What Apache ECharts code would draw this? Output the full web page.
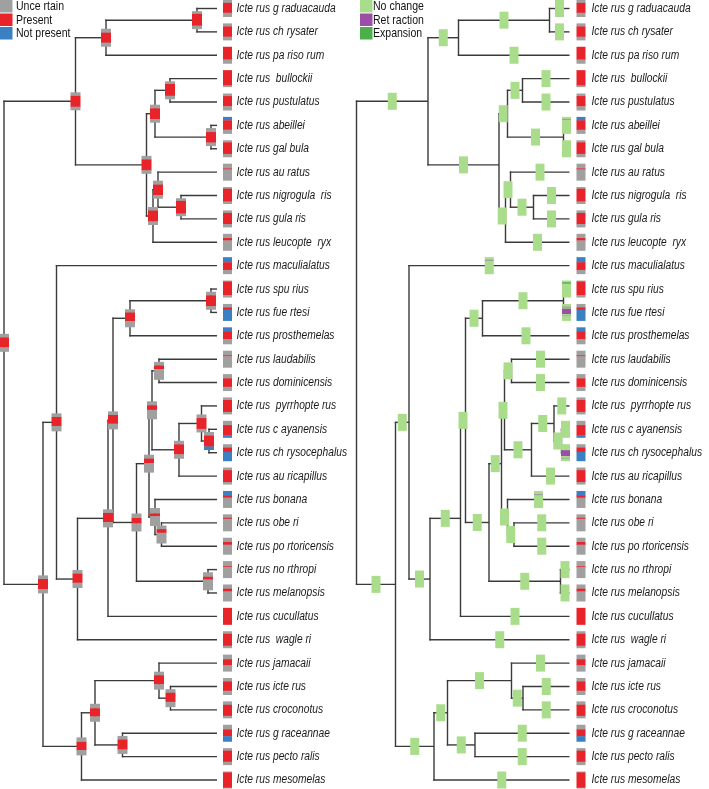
<!DOCTYPE html>
<html><head><meta charset="utf-8">
<script src="https://cdn.jsdelivr.net/npm/echarts@6/dist/echarts.min.js"></script>
<style>html,body{margin:0;padding:0;background:#fff}#c{width:709px;height:789px}</style>
</head><body><div id="c"></div><script>
// ---------------- DATA ----------------
const taxa = ['Icte rus g raduacauda','Icte rus ch rysater','Icte rus pa riso rum','Icte rus  bullockii','Icte rus pustulatus','Icte rus abeillei','Icte rus gal bula','Icte rus au ratus','Icte rus nigrogula  ris','Icte rus gula ris','Icte rus leucopte  ryx','Icte rus maculialatus','Icte rus spu rius','Icte rus fue rtesi','Icte rus prosthemelas','Icte rus laudabilis','Icte rus dominicensis','Icte rus  pyrrhopte rus','Icte rus c ayanensis','Icte rus ch rysocephalus','Icte rus au ricapillus','Icte rus bonana','Icte rus obe ri','Icte rus po rtoricensis','Icte rus no rthropi','Icte rus melanopsis','Icte rus cucullatus','Icte rus  wagle ri','Icte rus jamacaii','Icte rus icte rus','Icte rus croconotus','Icte rus g raceannae','Icte rus pecto ralis','Icte rus mesomelas'];
// state composition top->bottom: g=uncertain, r=present, b=not present (relative weights)
const leafStates = ['g17 r58 g25','g18 r60 g22','r75 g25','r90 g10','g15 r60 g25','b20 r55 g25','g12 r68 g20','g28 r6 g66','g10 r75 g15','g15 r65 g20','g25 r14 g61','b30 r45 g25','g6 r79 g15','g20 r14 b66','b25 r45 g30','g27 r6 g67','g25 r50 g25','g15 r70 g15','g25 r60 b15','g20 r24 b56','g15 r70 g15','b27 r12 g61','g20 r6 g74','g25 r16 g59','g30 r6 g64','g25 r16 g59','r100','g15 r70 g15','g27 r36 g37','g20 r55 g25','g20 r65 g15','g27 r40 b33','g15 r65 g20','g5 r90 g5'];
const nodeIds = ['root','A','A1','A1a','A2','A2a','A2a1','A2a2','A2b','A2b1','A2b1a','B','C','D','E','F','G','G1','H','I','I1','I1a','I1b','I1b1','I1b1a','I2','I2a','J','K','K1','K1a','K1a1','K1b'];
const nodeDepths = [0,71.5,102,193,142.5,151,166,207,149,154,177,39,52.5,73.5,104,109,126,207,132.5,145,148,155,175,197.5,205,151,157.5,204,77.5,91,155,166.5,118.5];
const nodeChildren = [['A','B'],['A1','A2'],['A1a',2],[0,1],['A2a','A2b'],['A2a1','A2a2'],[3,4],[5,6],['A2b1',10],[7,'A2b1a'],[8,9],['C','K'],[11,'D'],['E',27],['F',26],['G','H'],['G1',14],[12,13],['I','J'],['I1','I2'],['I1a','I1b'],[15,16],['I1b1',20],[17,'I1b1a'],[18,19],[21,'I2a'],[22,23],[24,25],['K1',33],['K1a','K1b'],[28,'K1a1'],[29,30],[31,32]];
const nodeStates = ['g20 r55 g25','g20 r60 g20','g22 r55 g23','g15 r65 g20','g20 r60 g20','g20 r60 g20','g15 r65 g20','g22 r58 g20','g20 r60 g20','g22 r58 g20','g15 r70 g15','g20 r56 g24','g20 r50 g30','g20 r50 g30','g20 r50 g30','g20 r48 g32','g18 r47 g35','g20 r60 g20','g25 r30 g45','g22 r25 g53','g22 r25 g53','g20 r20 g60','g20 r55 g25','g20 r60 g20','g20 r60 b20','g30 r15 g55','g20 r20 g60','g25 r15 g60','g25 r45 g30','g25 r45 g30','g20 r50 g30','g20 r50 g30','g20 r55 g25'];
// branch changes (right tree): n=no change, p=retraction, e=expansion, g=uncertain
const changeTaxa = [5, 11, 12, 13, 19, 21];
const changeStates = ['n12 g8 n80','n15 g8 n77','n10 e8 n82','n15 g8 n5 p32 n8 g5 n27','n35 p35 n10 g5 n15','n18 g8 n74'];
const defaultChange = 'n100';
const legendLeft = ['Unce rtain','Present','Not present'];
const legendLeftKeys = ['g','r','b'];
const legendRight = ['No change','Ret raction','Expansion'];
const legendRightKeys = ['n','p','e'];
const TIP = 213;

// ---------------- STYLE ----------------
const COLORS = {g:'#a0a0a0', r:'#e8232a', b:'#3a80c3', n:'#a9dc8b', p:'#9b4ea6', e:'#4dae4c'};
const LINE = '#3a3a3a';
const FONT = '"Liberation Sans",Arial,sans-serif';

// ---------------- TREE ----------------
const nodeIndex = {}; nodeIds.forEach((id,i)=>nodeIndex[id]=i);
function isLeaf(ref){ return typeof ref === 'number'; }
function getY(ref){ if (isLeaf(ref)) return ref; const ch = nodeChildren[nodeIndex[ref]]; return (getY(ch[0]) + getY(ch[1]))/2; }
function getDepth(ref){ return isLeaf(ref) ? TIP : nodeDepths[nodeIndex[ref]]; }
const items = [];
function walk(ref, pDepth){
  const leaf = isLeaf(ref);
  const it = {ref, leaf, depth:getDepth(ref), y:getY(ref), pDepth};
  if (!leaf){ const ch = nodeChildren[nodeIndex[ref]]; it.yMin = getY(ch[0]); it.yMax = getY(ch[1]); it.state = nodeStates[nodeIndex[ref]]; it.change = defaultChange; }
  else { it.state = leafStates[ref]; const k = changeTaxa.indexOf(ref); it.change = k >= 0 ? changeStates[k] : defaultChange; }
  items.push(it);
  if (!leaf) nodeChildren[nodeIndex[ref]].forEach(c=>walk(c, it.depth));
}
walk('root', null);
const treeData = items.map(it=>[it.depth, it.y]);

function parse(s){ return s.trim().split(/\s+/).map(t=>[t[0], +t.slice(1)]); }
function seg(x1,y1,x2,y2){ return {type:'line', shape:{x1,y1,x2,y2}, style:{stroke:LINE, lineWidth:1.4}}; }
function box(cx, cy, w, h, state){
  const segs = parse(state); const tot = segs.reduce((a,s)=>a+s[1],0);
  let y = cy - h/2; const out = [];
  segs.forEach(([k,v],i)=>{ const hh = h*v/tot; out.push({type:'rect', shape:{x:cx-w/2, y:y, width:w, height:hh + (i<segs.length-1?0.4:0)}, style:{fill:COLORS[k]}}); y += hh; });
  return out;
}
function label(x, y, text){
  return {type:'text', x:x, y:y, scaleX:0.82, style:{text:text, x:0, y:0, fill:'#1a1a1a', font:'italic 12.5px ' + FONT, align:'left', verticalAlign:'middle'}};
}
function branchRender(params, api){
  const it = items[params.dataIndex];
  const p = api.coord([it.depth, it.y]);
  const ch = [];
  if (it.pDepth !== null){ const q = api.coord([it.pDepth, it.y]); ch.push(seg(q[0]-0.7, p[1], p[0], p[1])); }
  if (!it.leaf){ const a = api.coord([it.depth, it.yMin]), b = api.coord([it.depth, it.yMax]); ch.push(seg(p[0], a[1]-0.7, p[0], b[1]+0.7)); }
  return {type:'group', children:ch};
}
function leftBoxRender(params, api){
  const it = items[params.dataIndex];
  const p = api.coord([it.depth, it.y]);
  if (!it.leaf) return {type:'group', children: box(p[0], p[1], 10, 18, it.state)};
  return {type:'group', children: box(p[0]+10.5, p[1], 9, 17, it.state).concat([label(p[0]+19.5, p[1], taxa[it.ref])])};
}
function rightBoxRender(params, api){
  const it = items[params.dataIndex];
  const p = api.coord([it.depth, it.y]);
  let ch = [];
  if (it.pDepth !== null){ const m = api.coord([(it.pDepth + it.depth)/2, it.y]); ch = ch.concat(box(m[0], m[1], 9, 17, it.change)); }
  if (it.leaf){ ch = ch.concat(box(p[0]+11.5, p[1], 9, 17, it.state)); ch.push(label(p[0]+22, p[1], taxa[it.ref])); }
  return {type:'group', children:ch};
}
function legendGraphic(names, keys, x0, tx){
  const out = [];
  names.forEach((n,i)=>{
    out.push({type:'rect', left:x0, top:i*13.5, shape:{width:12.5, height:12.5}, style:{fill:COLORS[keys[i]]}});
    out.push({type:'text', x:tx, y:i*13.5+6.5, scaleX:0.78, style:{text:n, fill:'#111', font:'13.5px ' + FONT, verticalAlign:'middle', align:'left'}});
  });
  return out;
}

const chart = echarts.init(document.getElementById('c'));
chart.setOption({
  animation:false,
  backgroundColor:'#fff',
  grid:[{left:4, top:8.5, width:213, height:771.5},{left:356.5, top:8.5, width:213, height:771.5}],
  xAxis:[{gridIndex:0, type:'value', min:0, max:TIP, show:false},{gridIndex:1, type:'value', min:0, max:TIP, show:false}],
  yAxis:[{gridIndex:0, type:'value', min:0, max:taxa.length-1, inverse:true, show:false},{gridIndex:1, type:'value', min:0, max:taxa.length-1, inverse:true, show:false}],
  graphic: legendGraphic(legendLeft, legendLeftKeys, 0, 16).concat(legendGraphic(legendRight, legendRightKeys, 360, 373)),
  series:[
    {type:'custom', name:'branchesL', xAxisIndex:0, yAxisIndex:0, data:treeData, renderItem:branchRender, z:1, clip:false, silent:true},
    {type:'custom', name:'nodesL', xAxisIndex:0, yAxisIndex:0, data:treeData, renderItem:leftBoxRender, z:2, clip:false, silent:true},
    {type:'custom', name:'branchesR', xAxisIndex:1, yAxisIndex:1, data:treeData, renderItem:branchRender, z:1, clip:false, silent:true},
    {type:'custom', name:'nodesR', xAxisIndex:1, yAxisIndex:1, data:treeData, renderItem:rightBoxRender, z:2, clip:false, silent:true}
  ]
});
</script></body></html>
